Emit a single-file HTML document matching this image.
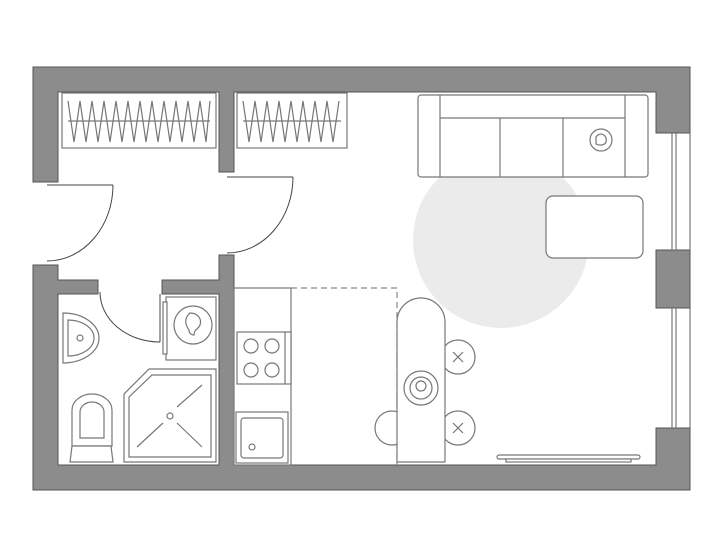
<!DOCTYPE html><html><head><style>body{margin:0;background:#fff}svg{display:block}</style></head><body>
<svg width="723" height="560" viewBox="0 0 723 560" xmlns="http://www.w3.org/2000/svg">
<g fill="#8c8c8c" stroke="#555" stroke-width="1">
<path d="M33 67H690V133H656V92H234V172H219V92H58V182H33Z"/>
<path d="M33 265H58V280H98V294H58V465H219V294H162V280H219V255H234V465H656V428H690V490H33Z"/>
<rect x="656" y="250" width="34" height="58"/>
</g>
<g fill="none" stroke="#777" stroke-width="1.2">
<line x1="672" y1="133" x2="672" y2="250"/><line x1="676" y1="133" x2="676" y2="250"/><line x1="690" y1="133" x2="690" y2="250"/>
<line x1="672" y1="308" x2="672" y2="428"/><line x1="676" y1="308" x2="676" y2="428"/><line x1="690" y1="308" x2="690" y2="428"/>
<rect x="62" y="93" width="154" height="55"/><rect x="237" y="93" width="110" height="55"/>
<line x1="68" y1="121" x2="210" y2="121"/><line x1="243" y1="121" x2="341" y2="121"/>
<polyline points="68,101 74,142 80,101 86,142 92,101 98,142 104,101 110,142 116,101 122,142 128,101 134,142 140,101 146,142 152,101 158,142 164,101 170,142 176,101 182,142 188,101 194,142 200,101 206,142 210,101"/>
<polyline points="243,101 249,142 255,101 261,142 267,101 273,142 279,101 285,142 291,101 297,142 303,101 309,142 315,101 321,142 327,101 333,142 339,101"/>
</g>
<g fill="none" stroke="#444" stroke-width="1">
<line x1="47" y1="185" x2="113" y2="185"/><path d="M113 185A66 76 0 0 1 47 261"/>
<line x1="227" y1="177" x2="293" y2="177"/><path d="M293 177A66 76 0 0 1 227 253"/>
<line x1="160" y1="294" x2="160" y2="342"/><path d="M100 292A60 50 0 0 0 160 342"/>
</g>
<circle cx="501" cy="240" r="88" fill="#ebebeb"/>
<g fill="#fff" stroke="#777" stroke-width="1.2">
<path d="M63 313A36 25 0 0 1 63 363Z"/><path d="M68 320A26 18 0 0 1 68 356Z" fill="none"/><circle cx="80" cy="338" r="3"/>
<rect x="166" y="297" width="50" height="63"/><rect x="163" y="302" width="4" height="52"/><circle cx="193" cy="325" r="19"/>
<path d="M190 313c8 0 12 6 10 12c-2 5-6 4-6 10c-3 0-5-2-5-5c-3-4-6-11 1-17z"/>
<path d="M149 369H216V462H124V394Z"/><path d="M152 375H211V457H129V397Z"/>
<line x1="137" y1="447" x2="163" y2="423"/><line x1="177" y1="407" x2="202" y2="385"/><line x1="177" y1="423" x2="202" y2="447"/><circle cx="170" cy="416" r="3"/>
<path d="M72 446V410A20 16 0 0 1 112 410V446Z"/><path d="M80 438V412A12 10 0 0 1 104 412V438Z"/><path d="M72 446H111L113 462H70Z"/>
<rect x="234" y="288" width="57" height="177"/>
<rect x="237" y="332" width="54" height="52"/><line x1="285" y1="332" x2="285" y2="384"/>
<circle cx="251" cy="346" r="7"/><circle cx="272" cy="346" r="7"/><circle cx="251" cy="370" r="7"/><circle cx="272" cy="370" r="7"/>
<rect x="236" y="412" width="52" height="51"/><rect x="241" y="418" width="42" height="40" rx="3"/><circle cx="252" cy="447" r="3"/>
</g>
<path d="M291 288H397V465" fill="none" stroke="#888" stroke-width="1.2" stroke-dasharray="6,4"/>
<g fill="#fff" stroke="#777" stroke-width="1.2">
<rect x="418" y="95" width="230" height="82" rx="3"/>
<line x1="440" y1="95" x2="440" y2="177"/><line x1="625" y1="95" x2="625" y2="177"/>
<line x1="440" y1="118" x2="625" y2="118"/><line x1="500" y1="118" x2="500" y2="177"/><line x1="563" y1="118" x2="563" y2="177"/>
<circle cx="601" cy="140" r="11"/><path d="M596 137c4-6 12-2 10 5c-1 3-6 4-10 2z"/>
<rect x="546" y="196" width="97" height="62" rx="7"/>
<circle cx="392" cy="428" r="17"/><circle cx="458" cy="357" r="17"/><circle cx="458" cy="428" r="17"/>
<path d="M397 462V322A24 24 0 0 1 445 322V462Z"/>
<circle cx="421" cy="388" r="17"/><circle cx="421" cy="388" r="11"/><circle cx="421" cy="386" r="5"/>
<rect x="497" y="455" width="143" height="4" rx="2"/><rect x="506" y="459" width="125" height="3"/>
</g>
<g stroke="#777" stroke-width="1.2">
<line x1="453" y1="352" x2="463" y2="362"/><line x1="463" y1="352" x2="453" y2="362"/>
<line x1="453" y1="423" x2="463" y2="433"/><line x1="463" y1="423" x2="453" y2="433"/>
</g>
</svg></body></html>
